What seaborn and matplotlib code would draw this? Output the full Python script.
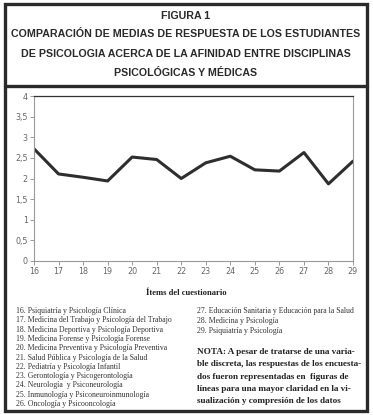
import matplotlib
matplotlib.use("Agg")
import matplotlib.pyplot as plt
from matplotlib.patches import Rectangle
from matplotlib.lines import Line2D
from matplotlib.ticker import FuncFormatter
import seaborn as sns

# datos
items = [16, 17, 18, 19, 20, 21, 22, 23, 24, 25, 26, 27, 28, 29]
medias = [2.72, 2.11, 2.03, 1.94, 2.52, 2.46, 2.00, 2.38, 2.54, 2.21, 2.18, 2.63, 1.87, 2.42]

titulo = ["FIGURA 1",
          "COMPARACIÓN DE MEDIAS DE RESPUESTA DE LOS ESTUDIANTES",
          "DE PSICOLOGIA ACERCA DE LA AFINIDAD ENTRE DISCIPLINAS",
          "PSICOLÓGICAS Y MÉDICAS"]

leyenda_izq = ["16. Psiquiatría y Psicología Clínica",
               "17. Medicina del Trabajo y Psicología del Trabajo",
               "18. Medicina Deportiva y Psicología Deportiva",
               "19. Medicina Forense y Psicología Forense",
               "20. Medicina Preventiva y Psicología Preventiva",
               "21. Salud Pública y Psicología de la Salud",
               "22. Pediatría y Psicología Infantil",
               "23. Gerontología y Psicogerontología",
               "24. Neurología  y Psiconeurología",
               "25. Inmunología y Psiconeuroinmunología",
               "26. Oncología y Psicooncología"]
leyenda_der = ["27. Educación Sanitaria y Educación para la Salud",
               "28. Medicina y Psicología",
               "29. Psiquiatría y Psicología"]

nota = ["NOTA: A pesar de tratarse de una varia-",
        "ble discreta, las respuestas de los encuesta-",
        "dos fueron representadas en  figuras de",
        "líneas para una mayor claridad en la vi-",
        "sualización y compresión de los datos"]

sns.set_style("white")
W, H = 373, 415
fig = plt.figure(figsize=(W / 100, H / 100), dpi=100)


def fx(px):
    return px / W


def fy(py):
    return 1 - py / H


# marco exterior y separador del titulo
dark = "#2a2a2a"
fig.patches.append(Rectangle((fx(5), fy(411)), fx(366.5 - 5), 406.5 / H, transform=fig.transFigure,
                             fill=False, edgecolor=dark, linewidth=2.4))
fig.lines.append(Line2D([fx(5), fx(366.5)], [fy(86.5), fy(86.5)], transform=fig.transFigure,
                        color=dark, linewidth=2.4))

title_font = dict(family="Liberation Sans", weight="bold", size=7.65,
                  color="#2a2a2a", ha="center", va="center")
for txt, y in zip(titulo, [16, 34, 54, 73]):
    fig.text(fx(186), fy(y), txt, **title_font)

ax = fig.add_axes([fx(34), fy(261), fx(353 - 34), (261 - 96) / H])
sns.lineplot(x=items, y=medias, ax=ax, color="#2e2e2e", linewidth=2.2)
ax.set_xlim(16, 29)
ax.set_ylim(0, 4)
ax.set_xticks(items)
ax.set_yticks([0, 0.5, 1, 1.5, 2, 2.5, 3, 3.5, 4])
ax.yaxis.set_major_formatter(FuncFormatter(lambda v, p: ("%g" % v).replace(".", ",")))
ax.tick_params(axis="both", labelsize=5.8, labelcolor="#666666", color="#999999",
               length=3, width=0.7, direction="out", left=True, bottom=True, pad=1.5)
for side in ["left", "bottom", "right"]:
    ax.spines[side].set_color("#999999")
    ax.spines[side].set_linewidth(0.8)
ax.spines["top"].set_color("#333333")
ax.spines["top"].set_linewidth(0.9)
ax.set_xlabel("")
ax.set_ylabel("")

fig.text(fx(186), fy(293), "Ítems del cuestionario", family="Liberation Serif", weight="bold",
         size=6.2, ha="center", va="center", color="#222222")

list_font = dict(family="Liberation Serif", size=5.6, color="#333333", ha="left", va="center")
for i, txt in enumerate(leyenda_izq):
    fig.text(fx(16), fy(311 + i * 9.3), txt, **list_font)
for i, txt in enumerate(leyenda_der):
    fig.text(fx(197), fy(311 + i * 10), txt, **list_font)

for i, txt in enumerate(nota):
    fig.text(fx(197), fy(352 + i * 12.3), txt, family="Liberation Serif", weight="bold",
             size=6.6, color="#222222", ha="left", va="center")

fig.savefig("out.png", dpi=100)
